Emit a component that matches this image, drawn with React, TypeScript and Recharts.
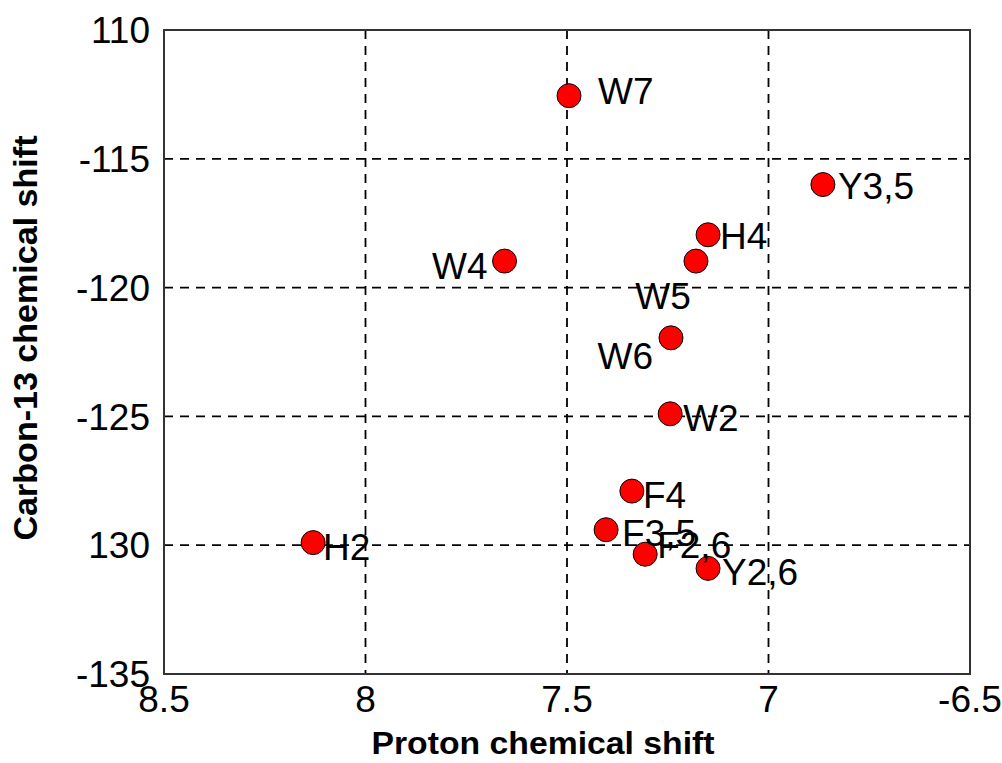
import React from 'react';
import { ScatterChart, Scatter, XAxis, YAxis, CartesianGrid, ReferenceArea } from 'recharts';

// residue peaks (1H shift, 13C shift)
const NAMES = ['W7', 'Y3,5', 'H4', 'W5', 'W4', 'W6', 'W2', 'F4', 'F3,5', 'F2,6', 'Y2,6', 'H2'];
const PROTON = [7.495, 6.865, 7.15, 7.18, 7.655, 7.242, 7.244, 7.339, 7.403, 7.306, 7.15, 8.13];
const CARBON = [-112.55, -116.0, -117.95, -118.97, -118.97, -121.95, -124.9, -127.9, -129.4, -130.35, -130.9, -129.9];

const X_TICKS = [8.5, 8, 7.5, 7, 6.5];
const X_TICK_LABELS = ['8.5', '8', '7.5', '7', '-6.5'];
const Y_TICKS = [-110, -115, -120, -125, -130, -135];
const Y_TICK_LABELS = ['110', '-115', '-120', '-125', '130', '-135'];

const FONT = '"Liberation Sans", Arial, sans-serif';

// where each label sits relative to its marker: [dx, dy, anchor]
const LABEL_LAYOUT: Record<string, [number, number, 'start' | 'end' | 'middle']> = {
  'W7': [29, -4, 'start'],
  'Y3,5': [15, 2, 'start'],
  'H4': [12, 2, 'start'],
  'W5': [-33, 35, 'middle'],
  'W4': [-17, 5, 'end'],
  'W6': [-18, 19, 'end'],
  'W2': [13, 5, 'start'],
  'F4': [11, 4, 'start'],
  'F3,5': [16, 4, 'start'],
  'F2,6': [12, -9, 'start'],
  'Y2,6': [14, 4, 'start'],
  'H2': [10, 5, 'start'],
};

const points = NAMES.map((name, i) => ({ name, x: PROTON[i], y: CARBON[i] }));

const Dot = (props: any) => {
  const { cx, cy } = props;
  return <circle cx={cx} cy={cy} r={12} fill="#ff0000" stroke="#000" strokeWidth={1} />;
};

const PeakLabel = (props: any) => {
  const { cx, cy, payload } = props;
  const [dx, dy, anchor] = LABEL_LAYOUT[payload.name] || [12, 0, 'start'];
  return (
    <text
      x={cx + dx}
      y={cy + dy}
      textAnchor={anchor}
      dominantBaseline="central"
      fontSize={37}
      fontFamily={FONT}
      fill="#000"
    >
      {payload.name}
    </text>
  );
};

const XTitle = () => (
  <text x={543} y={754} textAnchor="middle" fontSize={31} fontWeight="bold" fontFamily={FONT} fill="#000"
    textLength={343} lengthAdjust="spacingAndGlyphs">
    Proton chemical shift
  </text>
);

const YTitle = () => (
  <text
    x={338}
    y={37}
    transform="rotate(-90) translate(-676 0)"
    textAnchor="middle"
    fontSize={33}
    fontWeight="bold"
    fontFamily={FONT}
    fill="#000"
    textLength={405}
    lengthAdjust="spacingAndGlyphs"
  >
    Carbon-13 chemical shift
  </text>
);

export default function App() {
  return (
    <div style={{ position: 'absolute', left: 0, top: 0, background: '#fff' }}>
      <ScatterChart width={1002} height={763} margin={{ top: 30, right: 32, left: 0, bottom: 0 }}>
        <CartesianGrid stroke="#000" strokeWidth={1.8} strokeDasharray="9 7" />
        <XAxis
          type="number"
          dataKey="x"
          domain={[6.5, 8.5]}
          reversed
          ticks={X_TICKS}
          tickFormatter={(v: number) => X_TICK_LABELS[X_TICKS.indexOf(v)] ?? String(v)}
          tick={{ fontSize: 37, fill: '#000', fontFamily: FONT }}
          tickLine={false}
          axisLine={false}
          tickSize={0}
          tickMargin={12}
          height={89}
          interval={0}
          label={<XTitle />}
        />
        <YAxis
          type="number"
          dataKey="y"
          domain={[-135, -110]}
          ticks={Y_TICKS}
          tickFormatter={(v: number) => Y_TICK_LABELS[Y_TICKS.indexOf(v)] ?? String(v)}
          tick={{ fontSize: 37, fill: '#000', fontFamily: FONT }}
          tickLine={false}
          axisLine={false}
          tickSize={0}
          tickMargin={14}
          width={164}
          interval={0}
          label={<YTitle />}
        />
        <ReferenceArea x1={6.5} x2={8.5} y1={-135} y2={-110} fill="none" stroke="#333" strokeWidth={2} />
        <Scatter data={points} shape={<Dot />} isAnimationActive={false} />
        <Scatter data={points} shape={<PeakLabel />} isAnimationActive={false} />
      </ScatterChart>
    </div>
  );
}
